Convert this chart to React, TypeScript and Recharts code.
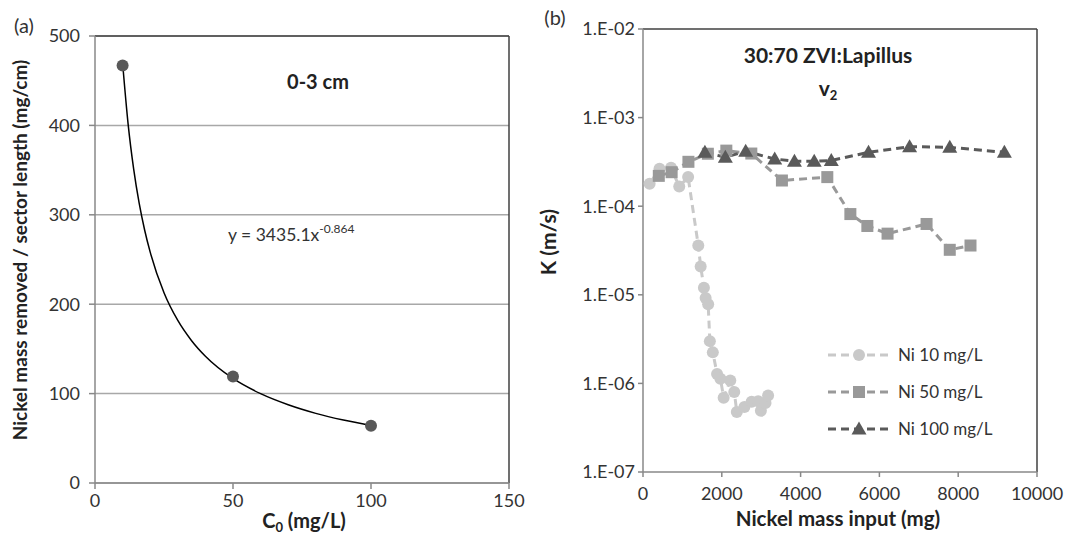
import React from 'react';
import { ComposedChart, LineChart, Line, Scatter, XAxis, YAxis, CartesianGrid, ReferenceLine } from 'recharts';

// (a) nickel removed per sector length vs inlet concentration
const c0Points = [10, 50, 100];
const removedPoints = [467, 119, 64];

// power trendline y = 3435.1x^-0.864
const trendC0 = [10, 12, 14, 16, 18, 20, 25, 30, 35, 40, 50, 60, 70, 80, 90, 100];
const trendRemoved = [469.8, 401.4, 351.3, 313.0, 282.7, 258.2, 212.8, 181.8, 159.2, 141.8, 116.9, 99.9, 87.5, 77.9, 70.4, 64.3];

const c0Ticks = [0, 50, 100, 150];
const removedTicks = [0, 100, 200, 300, 400, 500];

// (b) hydraulic conductivity vs nickel mass input
const ni10Input = [168, 419, 712, 920, 1145, 1403, 1464, 1546, 1589, 1654, 1697, 1772, 1880, 1965, 2047, 2215, 2316, 2381, 2574, 2757, 2924, 2992, 3110, 3175];
const ni10K = [1.79e-4, 2.64e-4, 2.71e-4, 1.67e-4, 2.13e-4, 3.6e-5, 2.09e-5, 1.2e-5, 9.2e-6, 7.8e-6, 3.0e-6, 2.24e-6, 1.28e-6, 1.13e-6, 6.9e-7, 1.08e-6, 8.0e-7, 4.77e-7, 5.4e-7, 6.2e-7, 6.3e-7, 4.9e-7, 6.0e-7, 7.3e-7];

const ni50Input = [401, 727, 1153, 1646, 2115, 2749, 3526, 4678, 5263, 5694, 6207, 7197, 7786, 8312];
const ni50K = [2.2e-4, 2.42e-4, 3.17e-4, 3.91e-4, 4.24e-4, 3.93e-4, 1.95e-4, 2.13e-4, 8.15e-5, 5.98e-5, 4.9e-5, 6.3e-5, 3.22e-5, 3.6e-5];

const ni100Input = [1571, 2090, 2606, 3343, 3844, 4345, 4779, 5724, 6766, 7786, 9172];
const ni100K = [4.06e-4, 3.57e-4, 4.17e-4, 3.41e-4, 3.22e-4, 3.22e-4, 3.28e-4, 4.06e-4, 4.7e-4, 4.62e-4, 4.06e-4];

const massTicks = [0, 2000, 4000, 6000, 8000, 10000];
const kTicks = [1e-7, 1e-6, 1e-5, 1e-4, 1e-3, 1e-2];

const FONT = 'Lato, "Open Sans", sans-serif';
const TICK = { fill: '#333', fontSize: 18, fontFamily: FONT };
const AXIS = { stroke: '#888', strokeWidth: 1.5 };

const zip = (xs: number[], ys: number[]) => xs.map((x, i) => ({ x, y: ys[i] }));

const pointsA = zip(c0Points, removedPoints);
const trendA = zip(trendC0, trendRemoved);

const series = [
  { name: 'Ni 10 mg/L', data: zip(ni10Input, ni10K), color: '#c9c9c9', shape: 'circle' },
  { name: 'Ni 50 mg/L', data: zip(ni50Input, ni50K), color: '#999999', shape: 'square' },
  { name: 'Ni 100 mg/L', data: zip(ni100Input, ni100K), color: '#5a5a5a', shape: 'triangle' },
];

const sciLabel = (v: number) => {
  const e = Math.round(Math.log10(v));
  return `1.E${e < 0 ? '-' : '+'}${String(Math.abs(e)).padStart(2, '0')}`;
};

const Marker = ({ cx, cy, shape, color }: { cx: number; cy: number; shape: string; color: string }) => {
  if (shape === 'square') return <rect x={cx - 6} y={cy - 6} width={12} height={12} fill={color} />;
  if (shape === 'triangle') return <path d={`M${cx},${cy - 7.5} L${cx + 7.5},${cy + 5.5} L${cx - 7.5},${cy + 5.5} Z`} fill={color} />;
  return <circle cx={cx} cy={cy} r={6} fill={color} />;
};

const makeDot = (shape: string, color: string) => (props: any) => {
  const { cx, cy, index } = props;
  if (cx == null || cy == null) return <g key={`d-${index}`} />;
  return (
    <g key={`${shape}-${index}`}>
      <Marker cx={cx} cy={cy} shape={shape} color={color} />
    </g>
  );
};

// legend drawn outside the chart so it takes no room from the plot
const LegendBox = () => (
  <div style={{ position: 'absolute', left: 826, top: 336, fontFamily: FONT, fontSize: 17, color: '#333' }}>
    {series.map((s) => (
      <div key={s.name} style={{ display: 'flex', alignItems: 'center', height: 37 }}>
        <svg width={66} height={20}>
          <line x1={2} y1={10} x2={65} y2={10} stroke={s.color} strokeWidth={3} strokeDasharray="8 5" />
          <Marker cx={33} cy={10} shape={s.shape} color={s.color} />
        </svg>
        <span style={{ marginLeft: 6 }}>{s.name}</span>
      </div>
    ))}
  </div>
);

export default function App() {
  return (
    <div style={{ position: 'absolute', left: 0, top: 0, width: 1068, height: 549, background: '#fff' }}>
      <div style={{ position: 'absolute', left: 0, top: 0 }}>
        <ComposedChart width={534} height={549} margin={{ top: 36, right: 25, bottom: 36, left: 35 }}>
          <CartesianGrid vertical={false} stroke="#a8a8a8" strokeWidth={1.5} />
          <XAxis
            type="number"
            dataKey="x"
            domain={[0, 150]}
            ticks={c0Ticks}
            height={30}
            tick={TICK}
            tickSize={6}
            tickMargin={5}
            axisLine={AXIS}
            tickLine={AXIS}
            allowDuplicatedCategory={false}
          />
          <YAxis
            type="number"
            dataKey="y"
            domain={[0, 500]}
            ticks={removedTicks}
            width={60}
            tick={TICK}
            tickSize={6}
            tickMargin={9}
            axisLine={AXIS}
            tickLine={AXIS}
          />
          <ReferenceLine y={500} stroke="#404040" strokeWidth={1.5} />
          <ReferenceLine x={150} stroke="#404040" strokeWidth={1.5} />
          <Line data={trendA} dataKey="y" type="monotone" stroke="#000" strokeWidth={1.5} dot={false} isAnimationActive={false} />
          <Scatter data={pointsA} dataKey="y" fill="#595959" shape={(p: any) => <circle cx={p.cx} cy={p.cy} r={6} fill="#595959" />} isAnimationActive={false} />
        </ComposedChart>
      </div>

      <div style={{ position: 'absolute', left: 534, top: 0 }}>
        <LineChart width={534} height={549} margin={{ top: 29, right: 31, bottom: 47, left: 39 }}>
          <XAxis
            type="number"
            dataKey="x"
            domain={[0, 10000]}
            ticks={massTicks}
            height={30}
            tick={TICK}
            tickSize={5}
            tickMargin={10}
            axisLine={AXIS}
            tickLine={AXIS}
            allowDuplicatedCategory={false}
          />
          <YAxis
            type="number"
            dataKey="y"
            scale="log"
            domain={[1e-7, 1e-2]}
            ticks={kTicks}
            allowDataOverflow
            width={70}
            tick={TICK}
            tickFormatter={sciLabel}
            tickSize={5}
            tickMargin={3}
            axisLine={AXIS}
            tickLine={AXIS}
          />
          <ReferenceLine y={1e-2} stroke="#404040" strokeWidth={1.5} />
          <ReferenceLine x={10000} stroke="#404040" strokeWidth={1.5} />
          {series.map((s) => (
            <Line
              key={s.name}
              name={s.name}
              data={s.data}
              dataKey="y"
              type="linear"
              stroke={s.color}
              strokeWidth={3}
              strokeDasharray="8 5"
              dot={makeDot(s.shape, s.color)}
              activeDot={false}
              isAnimationActive={false}
            />
          ))}
        </LineChart>
      </div>

      <LegendBox />

      <svg width={1068} height={549} style={{ position: 'absolute', left: 0, top: 0, pointerEvents: 'none' }} fontFamily={FONT}>
        <text x={24} y={28} fontSize={20} fill="#333" textAnchor="middle" dominantBaseline="middle">(a)</text>
        <text x={555} y={20} fontSize={20} fill="#333" textAnchor="middle" dominantBaseline="middle">(b)</text>

        <text x={318} y={84} fontSize={20} fontWeight="bold" fill="#222" textAnchor="middle" dominantBaseline="middle">0-3 cm</text>
        <text x={228} y={241} fontSize={17.5} fill="#333">
          y = 3435.1x<tspan fontSize={12} dy={-8}>-0.864</tspan>
        </text>
        <text
          transform="translate(22,250) rotate(-90)"
          fontSize={19}
          fontWeight="bold"
          fill="#222"
          textAnchor="middle"
          dominantBaseline="middle"
        >
          Nickel mass removed / sector length (mg/cm)
        </text>
        <text x={304} y={528} fontSize={20} fontWeight="bold" fill="#222" textAnchor="middle">
          C<tspan fontSize={13} dy={4}>0</tspan><tspan dy={-4}> (mg/L)</tspan>
        </text>

        <text x={828} y={63} fontSize={21} fontWeight="bold" fill="#222" textAnchor="middle">30:70 ZVI:Lapillus</text>
        <text x={828} y={96} fontSize={21} fontWeight="bold" fill="#222" textAnchor="middle">
          v<tspan fontSize={13} dy={4}>2</tspan>
        </text>
        <text
          transform="translate(551,242) rotate(-90)"
          fontSize={21}
          fontWeight="bold"
          fill="#222"
          textAnchor="middle"
          dominantBaseline="middle"
        >
          K (m/s)
        </text>
        <text x={838} y={526} fontSize={20.5} fontWeight="bold" fill="#222" textAnchor="middle">Nickel mass input (mg)</text>
      </svg>
    </div>
  );
}
